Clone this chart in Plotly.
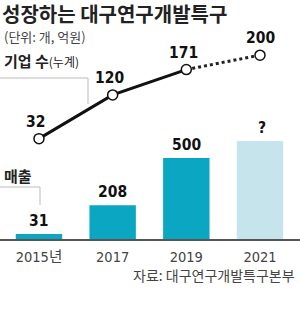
import plotly.graph_objects as go

years = ["2015년", "2017", "2019", "2021"]
companies = [32, 120, 171, 200]          # 기업 수(누계)
sales = [31, 208, 500, 605]               # 매출 (2021 추정치)
sales_labels = ["31", "208", "500", "?"]
company_labels = ["32", "120", "171", "200"]

TEAL = "#0aa6c2"
LIGHT = "#c6e4ec"
NARROW = "Liberation Sans Narrow, DejaVu Sans Condensed, Noto Sans CJK KR"
KR = "Noto Sans CJK KR, Noto Sans, sans-serif"

fig = go.Figure()

fig.add_trace(go.Bar(
    x=years, y=sales, width=0.63,
    marker=dict(color=[TEAL, TEAL, TEAL, LIGHT], line=dict(width=0)),
    hoverinfo="skip", yaxis="y"))

fig.add_trace(go.Scatter(
    x=years[:3], y=companies[:3], mode="lines",
    line=dict(color="#111", width=3), yaxis="y2", hoverinfo="skip"))
fig.add_trace(go.Scatter(
    x=years[2:], y=companies[2:], mode="lines",
    line=dict(color="#222", width=3, dash="dot"), yaxis="y2", hoverinfo="skip"))
fig.add_trace(go.Scatter(
    x=years, y=companies, mode="markers",
    marker=dict(size=10, color="white", line=dict(color="#111", width=1.5)),
    yaxis="y2", hoverinfo="skip"))

annotations = []
for i, (v, t) in enumerate(zip(companies, company_labels)):
    annotations.append(dict(x=i, y=v, xref="x", yref="y2", text="<b>" + t + "</b>",
                            showarrow=False, yshift=17, xshift=-3 if i < 3 else 0,
                            font=dict(family=NARROW, size=15.5, color="#111")))
for i, (v, t) in enumerate(zip(sales, sales_labels)):
    annotations.append(dict(x=i, y=v, xref="x", yref="y", text="<b>" + t + "</b>",
                            showarrow=False, yshift=13, xshift=2 if i == 3 else 0,
                            font=dict(family=NARROW, size=15.5, color="#111")))

def py(px):
    """pixel row (from top) -> paper fraction for a plot area spanning rows 0..239"""
    return (239 - px) / 239

annotations += [
    dict(x=0.0, y=py(13.5), xref="paper", yref="paper", text="<b>성장하는 대구연구개발특구</b>",
         showarrow=False, xanchor="left", yanchor="middle",
         font=dict(family=KR, size=20, color="#222")),
    dict(x=0.005, y=py(36.5), xref="paper", yref="paper", text="(단위: 개, 억원)",
         showarrow=False, xanchor="left", yanchor="middle",
         font=dict(family=KR, size=13, color="#444")),
    dict(x=0.005, y=py(60), xref="paper", yref="paper",
         text="<b>기업 수</b><span style='font-size:12px'>(누계)</span>",
         showarrow=False, xanchor="left", yanchor="middle",
         font=dict(family=KR, size=15, color="#222")),
    dict(x=0.008, y=py(175), xref="paper", yref="paper", text="<b>매출</b>",
         showarrow=False, xanchor="left", yanchor="middle",
         font=dict(family=KR, size=15, color="#222")),
    dict(x=0.99, y=py(274.5), xref="paper", yref="paper", text="자료: 대구연구개발특구본부",
         showarrow=False, xanchor="right", yanchor="middle",
         font=dict(family=KR, size=14, color="#444")),
]

GRAY = dict(color="#bbbbbb", width=1)
shapes = [
    dict(type="line", xref="paper", yref="paper", x0=0, x1=88 / 300, y0=py(78), y1=py(78), line=GRAY),
    dict(type="line", xref="paper", yref="paper", x0=88 / 300, x1=88 / 300, y0=py(78), y1=py(104), line=GRAY),
    dict(type="line", xref="paper", yref="paper", x0=0, x1=40 / 300, y0=py(187), y1=py(187), line=GRAY),
    dict(type="line", xref="paper", yref="paper", x0=40 / 300, x1=40 / 300, y0=py(187), y1=py(205), line=GRAY),
]

fig.update_layout(
    width=300, height=312,
    margin=dict(l=0, r=0, t=0, b=73),
    paper_bgcolor="white", plot_bgcolor="white",
    showlegend=False,
    xaxis=dict(type="category", range=[-0.529, 3.543], showgrid=False, zeroline=False,
               showline=True, linecolor="#555", linewidth=1.5, ticks="",
               ticklabelstandoff=4,
               tickfont=dict(family=NARROW, size=14.5, color="#444"), fixedrange=True),
    yaxis=dict(range=[0, 1475], visible=False, fixedrange=True),
    yaxis2=dict(range=[-170, 311], overlaying="y", visible=False, fixedrange=True),
    annotations=annotations,
    shapes=shapes,
)

fig.write_html("out.html")
